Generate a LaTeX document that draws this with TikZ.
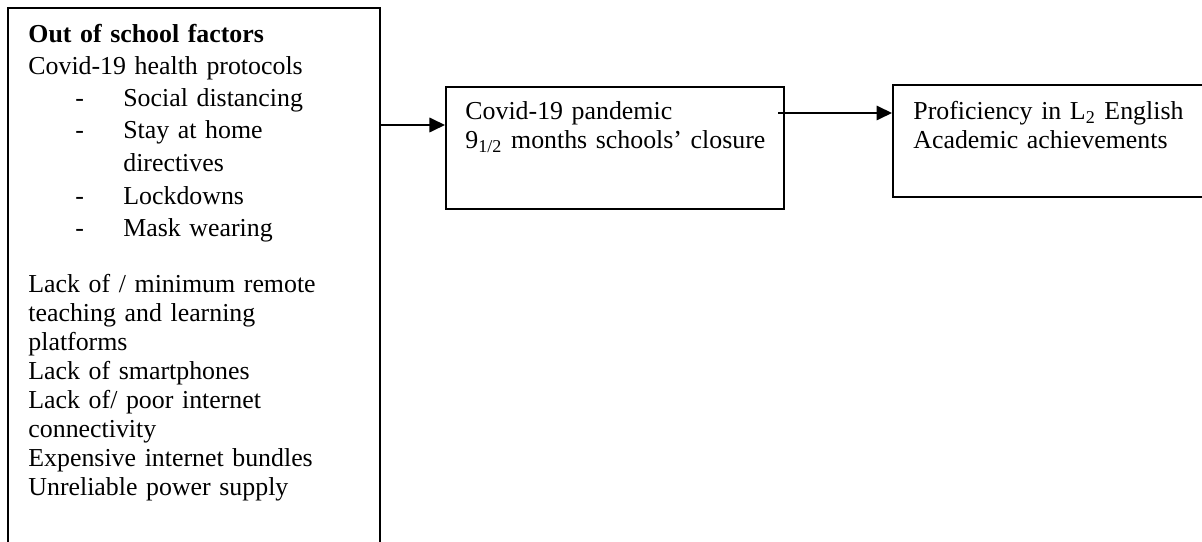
\documentclass[tikz,border=0pt]{standalone}
\usepackage{fontspec}
\setmainfont{Liberation Serif}
\usetikzlibrary{positioning,arrows.meta}

\tikzset{
    box/.style={draw, rectangle, line width=0.8pt, inner sep=0pt, anchor=north west},
    txt/.style={inner sep=0pt, anchor=base west, align=left, font=\fontsize{12.5}{14}\selectfont}
}
\newcommand{\dashitem}[1]{\hspace*{22.7pt}\makebox[23.2pt][l]{-}#1}

\begin{document}
\begin{tikzpicture}[x=0.4834pt, y=-0.4834pt, >={Triangle[length=7.5pt, width=7pt]}]
    \useasboundingbox (0,0) rectangle (1202,542);
    \clip (0,0) rectangle (1202,542);

    \node[box, minimum width=179.8pt, minimum height=267pt] (lft) at (7,7) {};
    \node[box, minimum width=163.4pt, minimum height=59pt] (mid) at (445,86) {};
    \node[box, minimum width=163.4pt, minimum height=54.1pt] (rgt) at (892,84) {};

    \node[txt, text width=165pt] (ltxt) at (28,43) {\textbf{Out of school factors}\\[1pt]
        Covid-19 health protocols\\[1.5pt]
        \dashitem{Social distancing}\\[1.5pt]
        \dashitem{Stay at home}\\[2pt]
        \hspace*{45.9pt}directives\\[2pt]
        \dashitem{Lockdowns}\\[1.5pt]
        \dashitem{Mask wearing}\\[13pt]
        Lack of / minimum remote\\
        teaching and learning\\
        platforms\\
        Lack of smartphones\\
        Lack of/ poor internet\\
        connectivity\\
        Expensive internet bundles\\
        Unreliable power supply};
    \node[txt, text width=155pt] (mtxt) at (465,120) {Covid-19 pandemic\\
        9\textsubscript{1/2} months schools' closure};
    \node[txt, text width=150pt] (rtxt) at (913,120) {Proficiency in L\textsubscript{2} English\\
        Academic achievements};

    \coordinate (a1) at (379,125);
    \coordinate (a2) at (778,113);

    \path[->, line width=0.9pt]
        (a1) edge (mid.west |- a1)
        (a2) edge (rgt.west |- a2);
\end{tikzpicture}
\end{document}
